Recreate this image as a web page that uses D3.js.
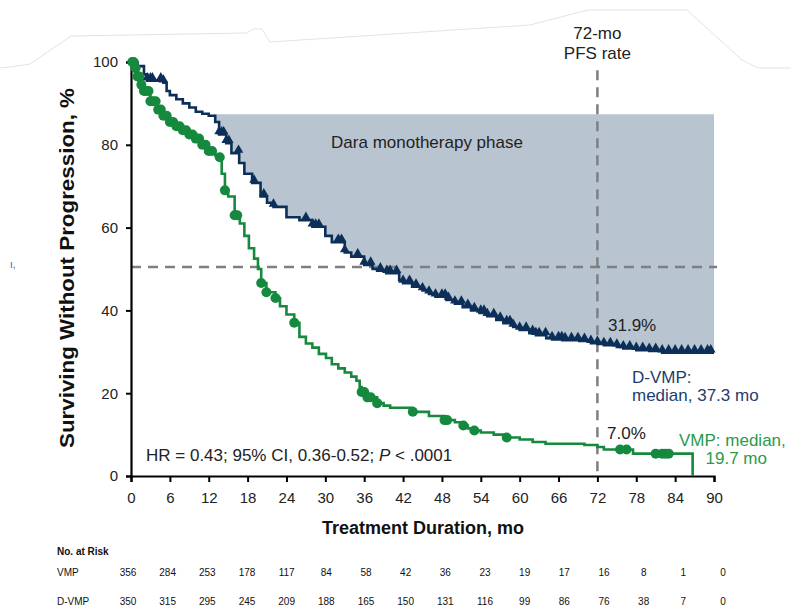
<!DOCTYPE html>
<html><head><meta charset="utf-8">
<script src="https://cdn.jsdelivr.net/npm/d3@7/dist/d3.min.js"></script>
<style>
body{margin:0;background:#fff;}
svg text{font-family:Arial,"Liberation Sans",sans-serif;}
</style></head>
<body>
<svg id="c" width="791" height="609"></svg>
<script>
// ---------- data ----------
const xTicks = [0,6,12,18,24,30,36,42,48,54,60,66,72,78,84,90];
const yTicks = [0,20,40,60,80,100];

const vmpTimes = [0,0.5,1,1.5,2,3,4,5,6,7,8,9,10,11,12,13,13.6,14,14.5,15,16,16.8,17.5,18.2,19,19.6,20.1,20.9,22.3,23,24,25.2,26,27,28,29,30.1,31,32,33,34,34.8,35.3,35.6,36.5,38,39,40,43.4,46,48.4,50,51,52,53,54,56,58,60,62,64,70,72,73,77.5,86.7];
const vmpSurv  = [100,98.5,96.5,94.5,93,90.5,88.5,87,85.5,84.5,83.5,82.5,81.5,80,78.5,77.5,77,73,69,67.5,63,61,58,55,52.5,50,46.6,44.4,43,41,39,37,33.6,32,31,29.5,28.5,27,26,25,24,23,21.5,20.3,19,17.6,17,16.5,15.5,14.5,13.5,13,12.2,11.5,11,10.5,10,9.3,8.8,8.2,7.8,7.5,7.0,6.4,5.4,0];
const vmpCensor = [0.2,0.4,0.7,1,1.3,1.6,2,2.3,2.7,3,3.4,3.8,4.2,4.6,5,5.5,6,6.5,7,7.5,8,8.5,9,9.5,10,10.5,11,11.5,12,12.5,13.7,14.5,16,16.4,20.1,20.9,22.3,25.2,35.6,36,36.5,37,38,43.5,48.4,48.8,51.3,53,58,75.5,76.5,81,82,82.5,83];

const dvmpTimes = [0,1,2,2.5,5,5.5,6,7,8,9,10,11,12,13,13.6,14.7,15.5,16.7,17.5,18.7,20,21,22,24,26,28,30,31,33,34,36,37.3,38,39.4,41.4,42,43.4,45,46,47,48.7,50,51.2,52.5,53.8,55,56.4,57.5,59,60,61.5,62.5,64.1,65,66.6,69.2,71,72,73,75,76,78,80,82,90];
const dvmpSurv  = [100,99,97,95.5,95,93,92,91,90,89,88,87.5,87,85.5,82.5,80.4,78,75.6,73,70.8,67.5,66,65,62.5,61.8,60.2,58,56.5,54,53,51,50,49.6,49,47.3,46.6,45.7,44.8,44,43.3,42.5,41.6,40.8,40,39.4,38.6,37.7,36.9,36,35.3,34.5,34,33.3,33,32.8,32.6,32.1,31.9,31.6,31.2,30.8,30.4,30.2,29.8,29.8];
const dvmpCensor = [2.5,3,3.3,4.6,5,13.6,14,14.3,14.7,15.1,16.6,19,20.5,22,27,28,28.5,29,32,32.5,33,35,36,37,38.5,39.5,40,41,42,43,44,45,46,47,48,48.5,49,50,51,52,53,54,54.5,55,56,57,58,58.5,59,60,61,62,62.5,63,64,65,66,66.5,67,68,69,70,71,72,73,74,75,76,77,78,79,80,81,82,83,84,85,86,87,88,89,89.5];

const riskMonths = [0,6,12,18,24,30,36,42,48,54,60,66,72,78,84,90];
const riskVMP  = [356,284,253,178,117,84,58,42,36,23,19,17,16,8,1,0];
const riskDVMP = [350,315,295,245,209,188,165,150,131,116,99,86,76,38,7,0];

const monoStart = 12.8, monoEnd = 90, monoTop = 87.4;
const medianLevel = 50.5, landmark = 72, landmarkTop = 98;

// ---------- setup ----------
const svg = d3.select("#c");
const x = d3.scaleLinear().domain([0,90]).range([131,714]);
const y = d3.scaleLinear().domain([0,100]).range([476,62]);
const xr = d3.scaleLinear().domain([0,90]).range([128,723]);

const GREEN = "#15893d", NAVY = "#0c2f59", SHADE = "#b9c4d1", DASH = "#7f7f7f";

// faint artefact outline at top of source image
svg.append("path")
  .attr("d","M0,68 L10,67 L30,64 L71,36 L247,33 L253,29 L262,29 L270,42 L530,25 L588,10 L687,10 L742,60 L758,68 L791,68")
  .attr("fill","none").attr("stroke","#e3e3e3").attr("stroke-width",1);

function stepVal(times, vals, t){
  let v = vals[0];
  for(let i=0;i<times.length;i++){ if(times[i]<=t) v = vals[i]; else break; }
  return v;
}

// shaded monotherapy region
const shadePts = [{t:monoStart, v:Math.min(monoTop, stepVal(dvmpTimes,dvmpSurv,monoStart))}];
dvmpTimes.forEach((t,i)=>{ if(t>monoStart && t<=monoEnd) shadePts.push({t:t, v:dvmpSurv[i]}); });
shadePts.push({t:monoEnd, v:shadePts[shadePts.length-1].v});
svg.append("path").datum(shadePts)
  .attr("d", d3.area().curve(d3.curveStepAfter).x(d=>x(d.t)).y0(d=>y(d.v)).y1(y(monoTop)))
  .attr("fill", SHADE);

// dashed reference lines
svg.append("line").attr("x1",x(0)).attr("x2",x(90)+3).attr("y1",y(medianLevel)).attr("y2",y(medianLevel))
  .attr("stroke",DASH).attr("stroke-width",2.5).attr("stroke-dasharray","10,7");
svg.append("line").attr("x1",x(landmark)).attr("x2",x(landmark)).attr("y1",y(landmarkTop)).attr("y2",y(0))
  .attr("stroke",DASH).attr("stroke-width",2.5).attr("stroke-dasharray","10,7");

// axes
const xAxis = svg.append("g").attr("transform",`translate(0,${y(0)})`)
  .call(d3.axisBottom(x).tickValues(xTicks).tickSize(6).tickPadding(10));
const yAxis = svg.append("g").attr("transform",`translate(${x(0)},0)`)
  .call(d3.axisLeft(y).tickValues(yTicks).tickSize(5).tickPadding(8));
[xAxis,yAxis].forEach(g=>{
  g.select(".domain").attr("stroke","#000").attr("stroke-width",2.2);
  g.selectAll(".tick line").attr("stroke","#000").attr("stroke-width",2);
  g.selectAll(".tick text").attr("fill","#222").style("font-size","15px").style("font-family","Arial, 'Liberation Sans', sans-serif");
});

// curves
const line = d3.line().curve(d3.curveStepAfter).x(d=>x(d[0])).y(d=>y(d[1]));
svg.append("path").datum(dvmpTimes.map((t,i)=>[t,dvmpSurv[i]]))
  .attr("d",line).attr("fill","none").attr("stroke",NAVY).attr("stroke-width",2.6);
svg.selectAll(".tri").data(dvmpCensor).enter().append("path")
  .attr("d", d3.symbol().type(d3.symbolTriangle).size(40))
  .attr("transform", d=>`translate(${x(d)},${y(stepVal(dvmpTimes,dvmpSurv,d))-3})`)
  .attr("fill",NAVY);

svg.append("path").datum(vmpTimes.map((t,i)=>[t,vmpSurv[i]]))
  .attr("d",line).attr("fill","none").attr("stroke",GREEN).attr("stroke-width",2.6);
svg.selectAll(".circ").data(vmpCensor).enter().append("circle")
  .attr("cx", d=>x(d)).attr("cy", d=>y(stepVal(vmpTimes,vmpSurv,d)))
  .attr("r",5).attr("fill",GREEN);

// annotations
const txt = (s,xx,yy,opt={})=>svg.append("text").attr("x",xx).attr("y",yy)
  .attr("text-anchor",opt.anchor||"start").attr("fill",opt.fill||"#222")
  .style("font-size",(opt.size||17)+"px").style("font-weight",opt.weight||"normal").text(s);

txt("72-mo", x(landmark), 39, {anchor:"middle"});
txt("PFS rate", x(landmark), 59, {anchor:"middle"});
txt("Dara monotherapy phase", 427, 148, {anchor:"middle"});
txt("31.9%", 608, 331);
txt("7.0%", 607, 439);
txt("D-VMP:", 632, 383, {fill:"#1e3d6e"});
txt("median, 37.3 mo", 632, 401, {fill:"#1e3d6e"});
txt("VMP: median,", 679, 446, {fill:"#2b9a4c"});
txt("19.7 mo", 767, 464, {fill:"#2b9a4c", anchor:"end"});
txt("ı,", 10, 268, {size:10, fill:"#3d5f92"});

const hr = svg.append("text").attr("x",146).attr("y",461).attr("fill","#222").style("font-size","17px");
hr.append("tspan").text("HR = 0.43; 95% CI, 0.36-0.52; ");
hr.append("tspan").style("font-style","italic").text("P");
hr.append("tspan").text(" < .0001");

// axis titles
svg.append("text").attr("transform","translate(74,268) rotate(-90)").attr("text-anchor","middle")
  .attr("textLength",360).attr("lengthAdjust","spacingAndGlyphs")
  .attr("fill","#111").style("font-size","20px").style("font-weight","bold").text("Surviving Without Progression, %");
svg.append("text").attr("x",423).attr("y",534).attr("text-anchor","middle")
  .attr("fill","#111").style("font-size","18px").style("font-weight","bold").text("Treatment Duration, mo");

// at-risk table
const NARROW = "'Liberation Sans Narrow','Arial Narrow',Arial,sans-serif";
svg.append("text").attr("x",57).attr("y",555).style("font-family",NARROW).style("font-size","10px").style("font-weight","bold").attr("fill","#111").text("No. at Risk");
svg.append("text").attr("x",57).attr("y",576).style("font-family",NARROW).style("font-size","10px").attr("fill","#111").text("VMP");
svg.append("text").attr("x",57).attr("y",605).style("font-family",NARROW).style("font-size","10px").attr("fill","#111").text("D-VMP");
svg.selectAll(".rv").data(riskVMP).enter().append("text")
  .attr("x",(d,i)=>xr(riskMonths[i])).attr("y",576).attr("text-anchor","middle")
  .style("font-family",NARROW).style("font-size","10px").attr("fill","#111").text(d=>d);
svg.selectAll(".rd").data(riskDVMP).enter().append("text")
  .attr("x",(d,i)=>xr(riskMonths[i])).attr("y",605).attr("text-anchor","middle")
  .style("font-family",NARROW).style("font-size","10px").attr("fill","#111").text(d=>d);
</script>
</body></html>
